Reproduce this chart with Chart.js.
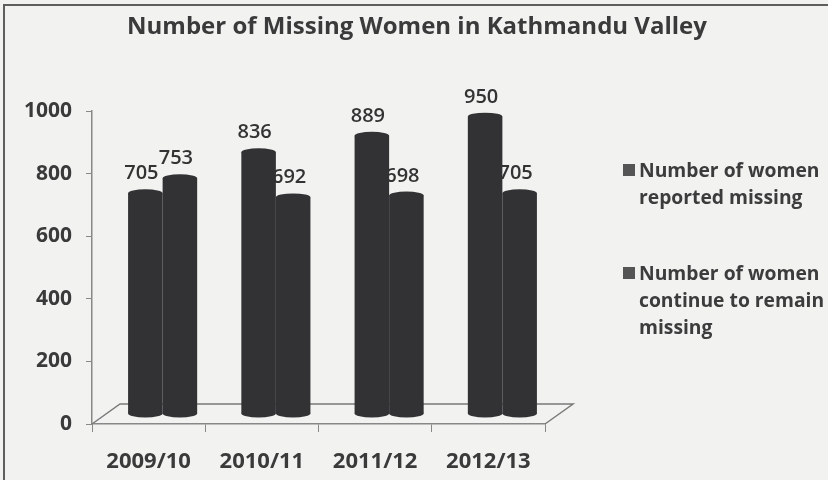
<!DOCTYPE html>
<html>
<head>
<meta charset="utf-8">
<script src="https://cdn.jsdelivr.net/npm/chart.js@4.4.1/dist/chart.umd.min.js"></script>
<style>
  body { margin: 0; background: #f2f2f0; }
  #wrap { position: relative; width: 828px; height: 480px; overflow: hidden; background: #f2f2f0; }
  #frame { position: absolute; left: 3px; top: 4px; width: 900px; height: 600px;
           border-left: 2px solid #5e5e5e; border-top: 2px solid #5e5e5e; }
  #chart { position: absolute; left: 0; top: 0; }
  #title { position: absolute; left: 0; top: 9px; width: 834px; text-align: center;
           font: bold 24px/32px "Open Sans", sans-serif; color: #3a3a3a; }
  .legend-item { position: absolute; left: 623px; font: bold 19.3px/27px "Open Sans", sans-serif; color: #3c3c3c; }
  .legend-item .box { position: absolute; left: 0; top: 8px; width: 12px; height: 12px; background: #555; }
  .legend-item .txt { margin-left: 16px; white-space: nowrap; }
</style>
</head>
<body>
<div id="wrap">
  <div id="frame"></div>
  <canvas id="chart" width="828" height="480"></canvas>
  <div id="title">Number of Missing Women in Kathmandu Valley</div>
  <div id="legend"></div>
</div>
<script>
const categories = ['2009/10', '2010/11', '2011/12', '2012/13'];
const reportedMissing = [705, 836, 889, 950];
const stillMissing = [753, 692, 698, 705];
const legendLines = [
    ['Number of women', 'reported missing'],
    ['Number of women', 'continue to remain', 'missing']
];
const legendTops = [156, 259];

const barColor = '#323234';
// depth of the fake 3d floor, bars stand half way back
const DX = 28, DY = -20;

const cylinders = {
    id: 'cylinders',
    beforeDatasetsDraw(chart) {
        const { ctx, chartArea, scales } = chart;
        const y0 = scales.y.getPixelForValue(0);
        ctx.save();
        ctx.strokeStyle = '#7a7a7a';
        ctx.lineWidth = 1.5;
        ctx.beginPath();
        ctx.moveTo(chartArea.left, y0);
        ctx.lineTo(chartArea.left + DX, y0 + DY);
        ctx.lineTo(chartArea.right + DX, y0 + DY);
        ctx.lineTo(chartArea.right, y0);
        ctx.stroke();

        // value labels sit behind the bars
        ctx.font = '600 20px "Open Sans"';
        ctx.fillStyle = '#333';
        ctx.textAlign = 'center';
        ctx.textBaseline = 'alphabetic';
        chart.data.datasets.forEach((ds, i) => {
            chart.getDatasetMeta(i).data.forEach((bar, j) => {
                ctx.fillText(ds.data[j], bar.x + DX / 2 - 4, bar.y + DY / 2 - 14);
            });
        });
        ctx.restore();

        ctx.save();
        ctx.translate(DX / 2, DY / 2);
    },
    afterDatasetsDraw(chart) {
        const { ctx } = chart;
        ctx.fillStyle = barColor;
        chart.data.datasets.forEach((ds, i) => {
            chart.getDatasetMeta(i).data.forEach(bar => {
                const rx = bar.width / 2;
                ctx.beginPath();
                ctx.ellipse(bar.x, bar.y, rx, 4, 0, 0, Math.PI * 2);
                ctx.fill();
                ctx.beginPath();
                ctx.ellipse(bar.x, bar.base, rx, 4, 0, 0, Math.PI * 2);
                ctx.fill();
            });
        });
        ctx.restore();
    }
};

new Chart(document.getElementById('chart').getContext('2d'), {
    type: 'bar',
    data: {
        labels: categories,
        datasets: [
            { label: legendLines[0].join(' '), data: reportedMissing, backgroundColor: barColor, clip: false },
            { label: legendLines[1].join(' '), data: stillMissing, backgroundColor: barColor, clip: false }
        ]
    },
    options: {
        responsive: false,
        animation: false,
        devicePixelRatio: 1,
        datasets: { bar: { categoryPercentage: 0.61, barPercentage: 1.0 } },
        layout: { padding: { left: 0, right: 283, top: 111, bottom: 0 } },
        plugins: { legend: { display: false }, tooltip: { enabled: false }, title: { display: false } },
        scales: {
            x: {
                afterFit: s => { s.height = 56; },
                grid: { drawOnChartArea: false, tickLength: 8, color: '#888' },
                border: { color: '#888', width: 1.5 },
                ticks: { padding: 17, color: '#3a3a3a', font: { family: 'Open Sans', size: 22, weight: 'bold' } }
            },
            y: {
                min: 0,
                max: 1000,
                afterFit: s => { s.width = 92; },
                grid: { drawOnChartArea: false, tickLength: 6, color: '#888' },
                border: { color: '#888', width: 1.5 },
                ticks: {
                    stepSize: 200, padding: 14, color: '#3a3a3a',
                    font: { family: 'Open Sans', size: 21, weight: 'bold' },
                    callback: v => String(v)
                }
            }
        }
    },
    plugins: [cylinders]
});

const legend = document.getElementById('legend');
legendLines.forEach((lines, i) => {
    const item = document.createElement('div');
    item.className = 'legend-item';
    item.style.top = legendTops[i] + 'px';
    item.innerHTML = '<span class="box"></span><div class="txt">' + lines.join('<br>') + '</div>';
    legend.appendChild(item);
});
</script>
</body>
</html>
